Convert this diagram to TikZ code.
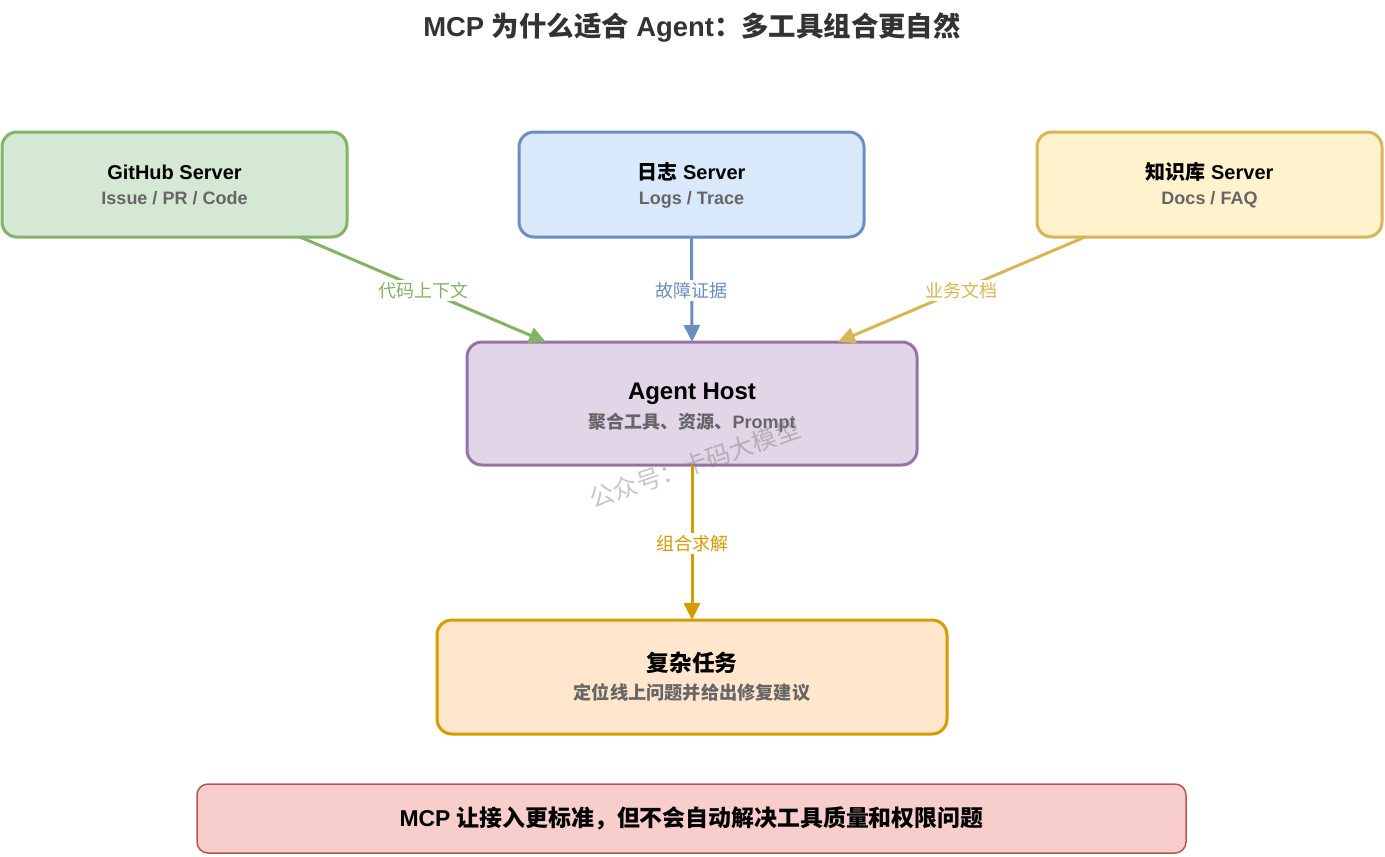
\documentclass[tikz,border=0pt]{standalone}
\usepackage{fontspec}
\usepackage{xcolor}
\setmainfont{Liberation Sans}
\newfontfamily\cjk{Noto Sans CJK SC}
\usetikzlibrary{arrows.meta}
\definecolor{githubFill}{HTML}{D5E8D4}
\definecolor{githubLine}{HTML}{82B366}
\definecolor{logFill}{HTML}{DAE8FC}
\definecolor{logLine}{HTML}{6C8EBF}
\definecolor{docFill}{HTML}{FFF2CC}
\definecolor{docLine}{HTML}{D6B656}
\definecolor{agentFill}{HTML}{E1D5E7}
\definecolor{agentLine}{HTML}{9673A6}
\definecolor{taskFill}{HTML}{FFE6CC}
\definecolor{taskLine}{HTML}{D79B00}
\definecolor{noteFill}{HTML}{F8CECC}
\definecolor{noteLine}{HTML}{B85450}
\definecolor{subText}{HTML}{666666}
\definecolor{titleText}{HTML}{333333}
\newcommand{\zh}[1]{{\cjk #1}}
% strut, head size, head text, sub size, line pitch, sub text
\newcommand{\boxtext}[6]{{\rule{0pt}{#1}\fontsize{#2}{#2}\selectfont\bfseries #3\par}{\fontsize{#4}{#5}\selectfont\bfseries\color{subText} #6\par}}
\begin{document}
\begin{tikzpicture}[x=1pt, y=-1pt]
    \tikzstyle{box} = [rectangle, line width=3pt, outer sep=0pt, rounded corners=15pt, minimum height=105pt, minimum width=345pt, inner sep=0pt, align=flush center, text=black]
    \tikzstyle{arrow} = [-{Triangle[length=17pt, width=16pt]}, line width=3pt]
    \tikzstyle{tag} = [fill=white, inner sep=2pt, yshift=-1pt, font=\fontsize{18}{20}\selectfont]

    \useasboundingbox (0,0) rectangle (1385,857);

    \node[font=\fontsize{27.4}{30}\selectfont\bfseries, text=titleText] (title) at (692,28) {MCP \zh{为什么适合} Agent\zh{：多工具组合更自然}};

    \node[box, draw=githubLine, fill=githubFill, text width=345pt] (github) at (174.5,184.5) {\boxtext{15pt}{20}{GitHub Server}{18}{25}{Issue / PR / Code}};
    \node[box, draw=logLine, fill=logFill, text width=345pt] (logsrv) at (691.5,184.5) {\boxtext{19pt}{20}{\zh{日志} Server}{18}{25}{Logs / Trace}};
    \node[box, draw=docLine, fill=docFill, text width=345pt] (docsrv) at (1209.5,184.5) {\boxtext{19pt}{20}{\zh{知识库} Server}{18}{25}{Docs / FAQ}};
    \node[box, draw=agentLine, fill=agentFill, minimum width=450pt, minimum height=123pt, text width=450pt] (agent) at (692,403.5) {\boxtext{24pt}{24}{Agent Host}{18}{29}{\zh{聚合工具、资源、}Prompt}};
    \node[box, draw=taskLine, fill=taskFill, minimum width=510pt, minimum height=114pt, text width=510pt] (task) at (692,677) {\boxtext{0pt}{22.7}{\zh{复杂任务}}{18.2}{27.5}{\zh{定位线上问题并给出修复建议}}};
    \node[box, draw=noteLine, fill=noteFill, line width=1.5pt, rounded corners=11pt, minimum width=989pt, minimum height=69pt, font=\fontsize{22.9}{26}\selectfont\bfseries] (note) at (691.5,818.5) {MCP \zh{让接入更标准，但不会自动解决工具质量和权限问题}};

    \draw[arrow, githubLine] ([xshift=125.5pt]github.south) -- node[tag, text=githubLine] (tagcode) {\zh{代码上下文}} ([xshift=-146pt]agent.north);
    \draw[arrow, logLine] (logsrv.south) -- node[tag, text=logLine] (taglog) {\zh{故障证据}} (agent.north);
    \draw[arrow, docLine] ([xshift=-124.5pt]docsrv.south) -- node[tag, text=docLine] (tagdoc) {\zh{业务文档}} ([xshift=146pt]agent.north);
    \draw[arrow, taskLine] (agent.south) -- node[tag, text=taskLine] (tagtask) {\zh{组合求解}} (task.north);

    % watermark
    \node[rotate=19, text=gray, opacity=0.45, font=\fontsize{24.5}{28}\selectfont] (mark) at (695,464) {\zh{公众号：卡码大模型}};
\end{tikzpicture}
\end{document}
